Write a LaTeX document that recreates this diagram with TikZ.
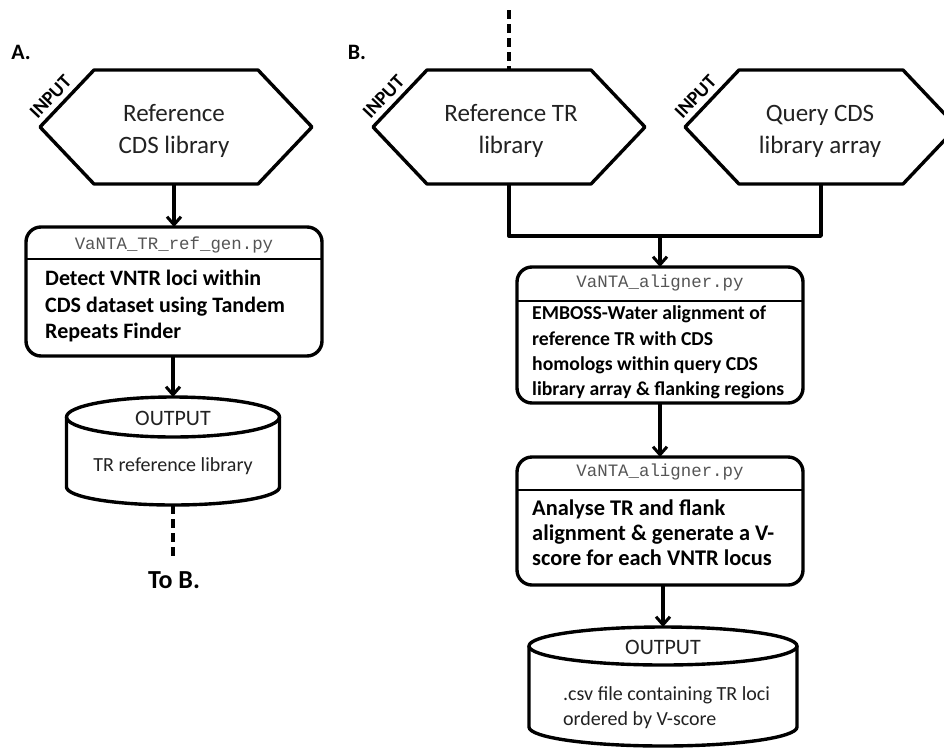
\documentclass[tikz,border=0pt]{standalone}
\usepackage{fontspec}
\setmainfont{Carlito}
\setmonofont{Liberation Mono}
\usetikzlibrary{arrows.meta,calc}
\definecolor{hextext}{HTML}{222222}
\definecolor{monogray}{HTML}{555555}
\begin{document}
\begin{tikzpicture}[x=1pt,y=-1pt,line join=round,
  shapeline/.style={line width=3.4pt},
  conn/.style={line width=3.4pt},
  arr/.style={line width=3.4pt,-{Straight Barb[length=8pt,width=14pt,line width=3pt]}},
  dashconn/.style={line width=3.8pt,dash pattern=on 9pt off 5pt},
  hexspace/.style={minimum width=272pt,minimum height=114pt,inner sep=0pt,outer sep=0pt},
  hextxt/.style={font=\fontsize{25}{32}\selectfont,text=hextext,align=center,inner sep=0pt},
  inlabel/.style={font=\bfseries\fontsize{19.5}{22}\selectfont,rotate=46.5,inner sep=0pt},
  procbox/.style={draw,line width=3.4pt,rounded corners=15pt,inner sep=0pt,outer sep=0pt},
  hdr/.style={font=\ttfamily\fontsize{17.4}{20}\selectfont,text=monogray,inner sep=0pt},
  bodytxt/.style={align=left,inner sep=0pt,anchor=west},
  cylspace/.style={inner sep=0pt,outer sep=0pt},
  outtxt/.style={font=\fontsize{22}{26}\selectfont,text=hextext,inner sep=0pt},
  cyltxt/.style={font=\fontsize{20}{25}\selectfont,text=hextext,inner sep=0pt},
  panel/.style={font=\bfseries\fontsize{22}{26}\selectfont,inner sep=0pt}
]
\clip (0,0) rectangle (944,747);
\fill[white] (0,0) rectangle (944,747);

% ---------- Panel A ----------
\node[panel] (labA) at (21,52) {A.};
\node[hexspace] (hexA) at (176,127) {};
\draw[shapeline] (hexA.west) -- ($(hexA.north west)+(54,0)$) -- ($(hexA.north east)+(-54,0)$)
  -- (hexA.east) -- ($(hexA.south east)+(-54,0)$) -- ($(hexA.south west)+(54,0)$) -- cycle;
\node[hextxt] (hexAtxt) at (174,131) {Reference\\CDS library};
\node[inlabel] (inA) at ($(hexA.west)+(10.5,-30)$) {INPUT};

\node[procbox,minimum width=296pt,minimum height=129pt] (boxA) at (174,291.5) {};
\draw[line width=2pt] ($(boxA.north west)+(0,32)$) -- ($(boxA.north east)+(0,32)$);
\node[hdr] (hdrA) at (174,245) {VaNTA\_TR\_ref\_gen.py};
\node[bodytxt,font=\bfseries\fontsize{22}{26.5}\selectfont] (bodyA) at (45,306.5) {Detect VNTR loci within\\CDS dataset using Tandem\\Repeats Finder};

\node[cylspace,minimum width=213pt,minimum height=108pt] (cylA) at (173,451) {};
\draw[shapeline,fill=white] (cylA.north west |- 0,417) -- (cylA.north west |- 0,487)
  arc[start angle=180,end angle=0,x radius=106.5,y radius=18] -- (cylA.north east |- 0,417);
\draw[shapeline] (173,417) ellipse [x radius=106.5,y radius=20];
\node[outtxt] (outA) at (173,418) {OUTPUT};
\node[cyltxt] (cylAtxt) at (173,466) {TR reference library};

\draw[arr] (boxA.north |- hexA.south) -- (boxA.north);
\draw[arr] (cylA.north |- boxA.south) -- (cylA.north);
\coordinate (dashAend) at (173,560);
\draw[dashconn] (cylA.south) -- (dashAend);
\node[panel,font=\bfseries\fontsize{26}{30}\selectfont] (toB) at (174,580) {To B.};

% ---------- Panel B ----------
\node[panel] (labB) at (357,52) {B.};
\node[hexspace] (hexB1) at (509,127) {};
\draw[shapeline] (hexB1.west) -- ($(hexB1.north west)+(54,0)$) -- ($(hexB1.north east)+(-54,0)$)
  -- (hexB1.east) -- ($(hexB1.south east)+(-54,0)$) -- ($(hexB1.south west)+(54,0)$) -- cycle;
\node[hextxt] (hexB1txt) at (511,131) {Reference TR\\library};
\node[inlabel] (inB1) at ($(hexB1.west)+(10.5,-30)$) {INPUT};

\node[hexspace] (hexB2) at (821,127) {};
\draw[shapeline] (hexB2.west) -- ($(hexB2.north west)+(54,0)$) -- ($(hexB2.north east)+(-54,0)$)
  -- (hexB2.east) -- ($(hexB2.south east)+(-54,0)$) -- ($(hexB2.south west)+(54,0)$) -- cycle;
\node[hextxt] (hexB2txt) at (820,131) {Query CDS\\library array};
\node[inlabel] (inB2) at ($(hexB2.west)+(10.5,-30)$) {INPUT};

\coordinate (dashBstart) at (509,10);
\draw[dashconn] (dashBstart) -- (hexB1.north);

\coordinate (junc) at (660,236);
\draw[conn] (hexB1.south) |- (junc) -| (hexB2.south);

\node[procbox,minimum width=286pt,minimum height=136pt] (boxB1) at (660,335) {};
\draw[line width=2pt] ($(boxB1.north west)+(0,34)$) -- ($(boxB1.north east)+(0,34)$);
\node[hdr] (hdrB1) at (660,283) {VaNTA\_aligner.py};
\node[bodytxt,font=\bfseries\fontsize{19.7}{25.5}\selectfont] (bodyB1) at (532,352.5) {EMBOSS-Water alignment of\\reference TR with CDS\\homologs within query CDS\\library array \& flanking regions};

\node[procbox,minimum width=286pt,minimum height=128pt] (boxB2) at (660,521) {};
\draw[line width=2pt] ($(boxB2.north west)+(0,33)$) -- ($(boxB2.north east)+(0,33)$);
\node[hdr] (hdrB2) at (660,472) {VaNTA\_aligner.py};
\node[bodytxt,font=\bfseries\fontsize{22.4}{25}\selectfont] (bodyB2) at (532,533) {Analyse TR and flank\\alignment \& generate a V-\\score for each VNTR locus};

\node[cylspace,minimum width=268pt,minimum height=119pt] (cylB) at (663,686.5) {};
\draw[shapeline,fill=white] (cylB.north west |- 0,646) -- (cylB.north west |- 0,727)
  arc[start angle=180,end angle=0,x radius=134,y radius=19] -- (cylB.north east |- 0,646);
\draw[shapeline] (663,646) ellipse [x radius=134,y radius=19];
\node[outtxt] (outB) at (663,647) {OUTPUT};
\node[cyltxt,align=left,anchor=west] (cylBtxt) at (563,707.5) {.csv file containing TR loci\\ordered by V-score};

\draw[arr] (junc) -- (boxB1.north);
\draw[arr] (boxB1.south) -- (boxB2.north);
\draw[arr] (cylB.north |- boxB2.south) -- (cylB.north);
\end{tikzpicture}
\end{document}
